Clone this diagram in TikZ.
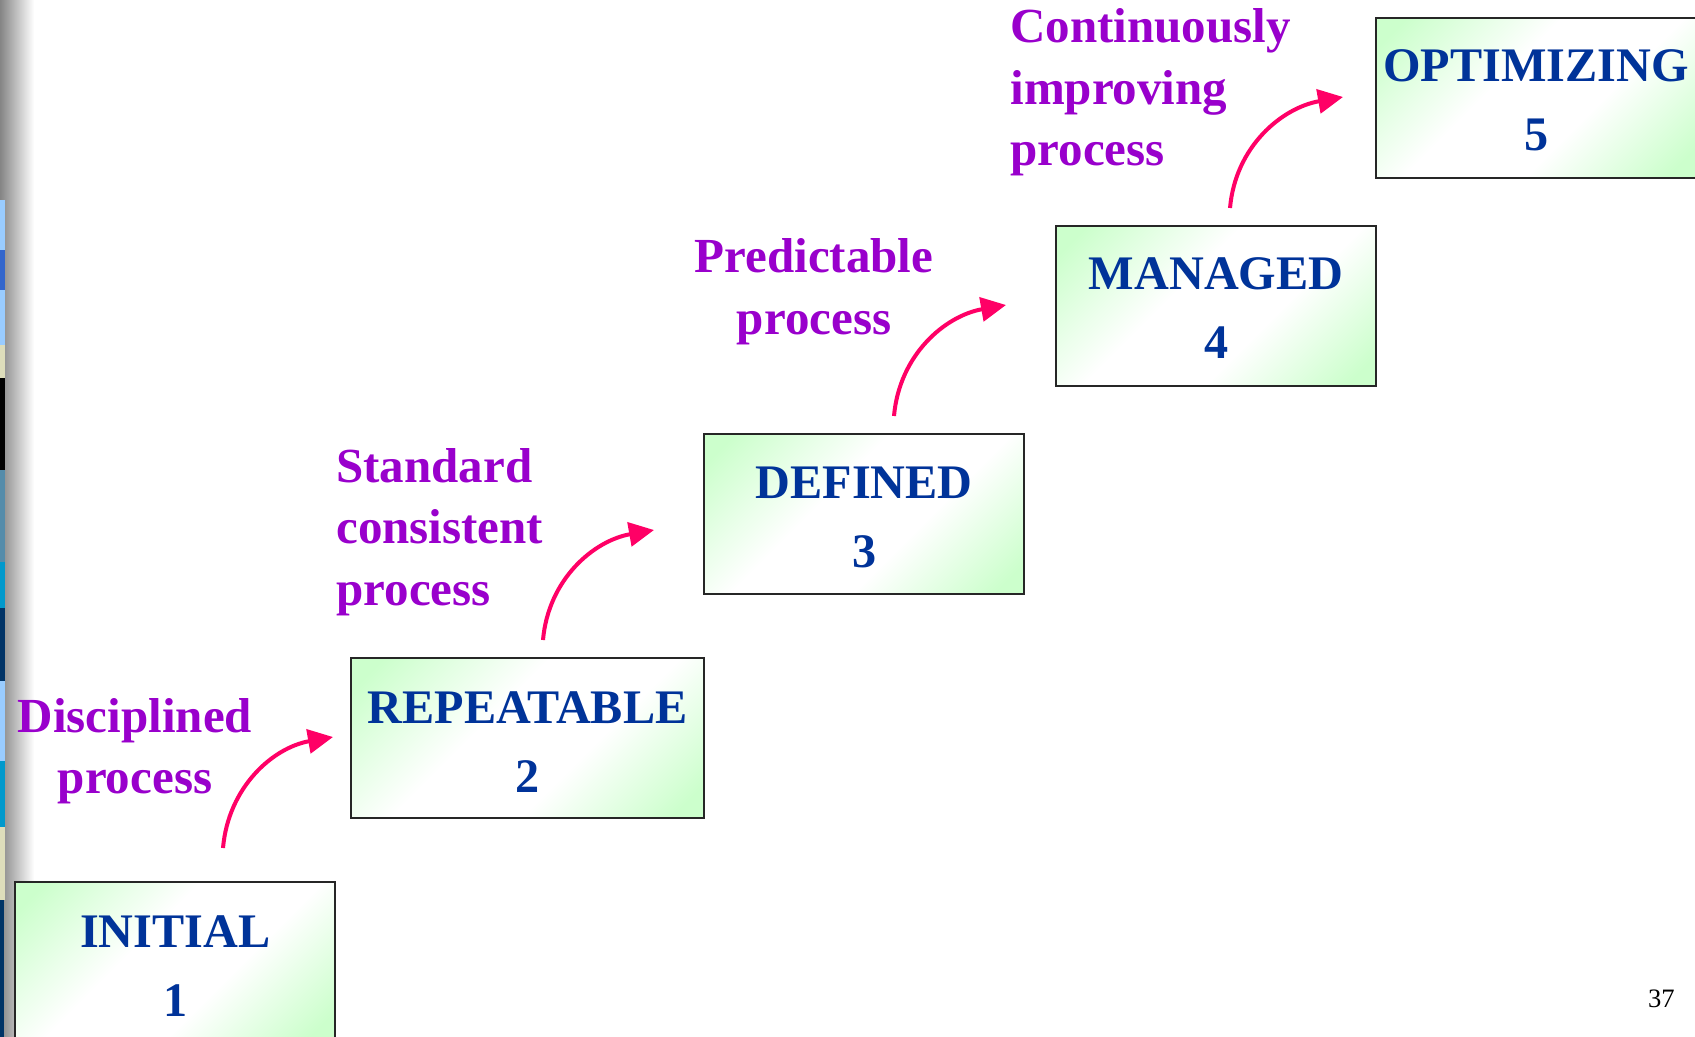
\documentclass[tikz,border=0pt]{standalone}
\usepackage{fontspec}
\setmainfont{Liberation Serif}
\usetikzlibrary{arrows.meta,calc}
\definecolor{boxgreen}{RGB}{204,255,204}
\definecolor{stageblue}{RGB}{0,51,153}
\definecolor{labpurple}{RGB}{153,0,204}
\definecolor{arrowpink}{RGB}{255,0,102}
\definecolor{bandlight}{RGB}{153,204,255}
\definecolor{bandblue}{RGB}{51,102,204}
\definecolor{bandcream}{RGB}{221,221,187}
\definecolor{bandteal}{RGB}{85,140,170}
\definecolor{bandcyan}{RGB}{0,153,204}
\definecolor{bandnavy}{RGB}{0,51,102}
\pgfdeclareverticalshading{stageshade}{100bp}{color(0bp)=(boxgreen); color(19bp)=(boxgreen); color(40bp)=(white); color(58bp)=(white); color(81bp)=(boxgreen); color(100bp)=(boxgreen)}
\tikzset{
  stage/.style={draw=black!85, line width=1.1pt, anchor=north west, inner sep=0pt,
    minimum width=160pt, minimum height=80pt,
    shading=stageshade, shading angle=45},
  stagetext/.style={text=stageblue, font=\fontsize{24.1}{34.5}\selectfont\bfseries,
    inner sep=0pt, anchor=base},
  lab/.style={text=labpurple, font=\fontsize{24.5}{30.75}\selectfont\bfseries, inner sep=0pt},
  arr/.style={draw=arrowpink, line width=2pt, -{Triangle[length=12.5pt,width=12pt]}},
}
\begin{document}
\begin{tikzpicture}[x=0.5pt,y=-0.5pt]
\useasboundingbox (0,0) rectangle (1695,1037);
\fill[white] (0,0) rectangle (1695,1037);
% left decorative strip
\shade[left color=black!48, right color=white] (0,0) rectangle (34,1037);
\fill[bandlight] (0,200) rectangle (5,250);
\fill[bandblue] (0,250) rectangle (5,290);
\fill[bandlight] (0,290) rectangle (5,345);
\fill[bandcream] (0,345) rectangle (5,378);
\fill[black] (0,378) rectangle (5,470);
\fill[bandteal] (0,470) rectangle (5,562);
\fill[bandcyan] (0,562) rectangle (5,608);
\fill[bandnavy] (0,608) rectangle (5,681);
\fill[bandlight] (0,681) rectangle (5,761);
\fill[bandcyan] (0,761) rectangle (5,827);
\fill[bandcream] (0,827) rectangle (5,900);
\fill[bandnavy] (0,900) rectangle (4,1037);

% stage boxes
\node[stage] (b1) at (14,881) {};
\node[stage, minimum width=176.5pt] (b2) at (350,657) {};
\node[stage] (b3) at (703,433) {};
\node[stage] (b4) at (1055,225) {};
\node[stage] (b5) at (1375,17) {};

\node[stagetext] (t1) at ($(b1.north)+(0,66)$) {\begin{tabular}[t]{@{}c@{}}INITIAL\\1\end{tabular}};
\node[stagetext] (t2) at ($(b2.north)+(0,66)$) {\begin{tabular}[t]{@{}c@{}}REPEATABLE\\2\end{tabular}};
\node[stagetext] (t3) at ($(b3.north)+(0,65)$) {\begin{tabular}[t]{@{}c@{}}DEFINED\\3\end{tabular}};
\node[stagetext] (t4) at ($(b4.north)+(0,65)$) {\begin{tabular}[t]{@{}c@{}}MANAGED\\4\end{tabular}};
\node[stagetext] (t5) at ($(b5.north)+(0,65)$) {\begin{tabular}[t]{@{}c@{}}OPTIMIZING\\5\end{tabular}};

% purple labels
\node[lab, anchor=base] (l1) at (135,732) {\begin{tabular}[t]{@{}c@{}}Disciplined\\process\end{tabular}};
\node[lab, anchor=base west] (l2) at (336,482) {\begin{tabular}[t]{@{}l@{}}Standard\\consistent\\process\end{tabular}};
\node[lab, anchor=base] (l3) at (814,273) {\begin{tabular}[t]{@{}c@{}}Predictable\\process\end{tabular}};
\node[lab, anchor=base west] (l4) at (1010,43) {\begin{tabular}[t]{@{}l@{}}Continuously\\improving\\process\end{tabular}};

% arrows
\coordinate (a1s) at ($(b1.north west)+(209,-33)$);
\coordinate (a1e) at ($(b2.north west)+(-17,80)$);
\coordinate (a2s) at ($(b2.north west)+(193,-17)$);
\coordinate (a2e) at ($(b3.north west)+(-49,97)$);
\coordinate (a3s) at ($(b3.north west)+(191,-17)$);
\coordinate (a3e) at ($(b4.north west)+(-49,80)$);
\coordinate (a4s) at ($(b4.north west)+(175,-17)$);
\coordinate (a4e) at ($(b5.north west)+(-32,80)$);
\draw[arr] (a1s) to[out=85,in=190] (a1e);
\draw[arr] (a2s) to[out=85,in=190] (a2e);
\draw[arr] (a3s) to[out=85,in=190] (a3e);
\draw[arr] (a4s) to[out=85,in=190] (a4e);

% page number
\node[font=\fontsize{13.3}{16}\selectfont, anchor=base east, inner sep=0pt] (pg) at (1675,1007) {37};
\end{tikzpicture}
\end{document}
